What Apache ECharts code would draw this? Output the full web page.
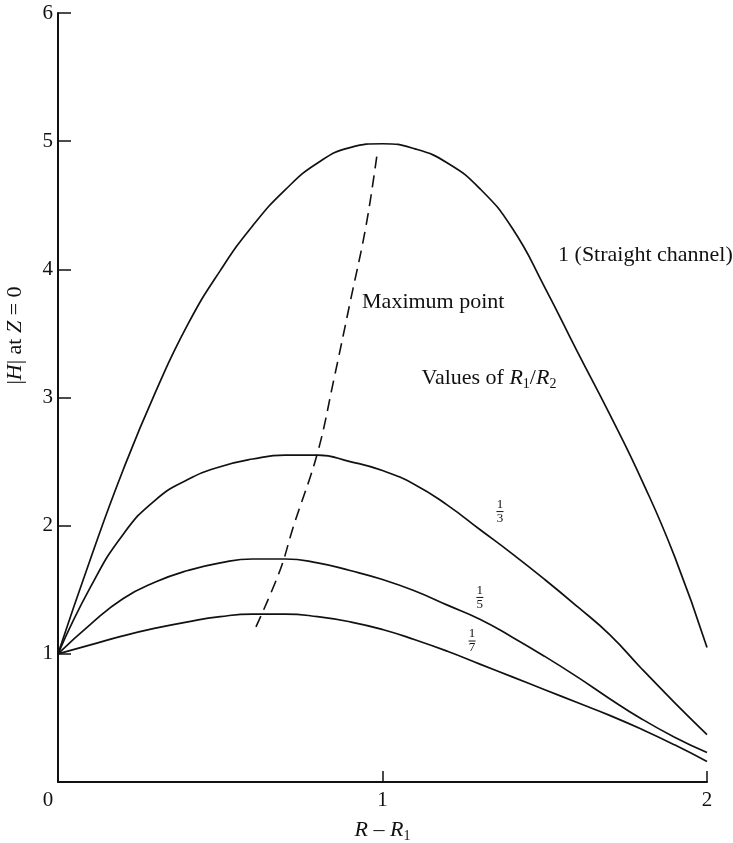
<!DOCTYPE html>
<html>
<head>
<meta charset="utf-8">
<script src="https://cdn.jsdelivr.net/npm/echarts@6/dist/echarts.min.js"></script>
<style>
html,body{margin:0;padding:0;background:#fff;}
#chart{width:733px;height:843px;}
</style>
</head>
<body>
<div id="chart"></div>
<script>
// ---- data ----
const xs = [0,0.1,0.2,0.3,0.4,0.5,0.6,0.7,0.8,0.9,1.0,1.1,1.2,1.3,1.4,1.5,1.6,1.7,1.8,1.9,2.0];
const straight = [1.0,1.74,2.43,3.04,3.57,3.99,4.34,4.62,4.83,4.95,4.98,4.94,4.83,4.63,4.32,3.86,3.36,2.87,2.35,1.76,1.05];
const third    = [1.0,1.52,1.93,2.2,2.36,2.46,2.52,2.55,2.55,2.5,2.43,2.32,2.16,1.97,1.78,1.58,1.37,1.15,0.88,0.62,0.37];
const fifth    = [1.0,1.23,1.43,1.56,1.65,1.71,1.74,1.74,1.71,1.65,1.58,1.49,1.38,1.27,1.13,0.98,0.82,0.65,0.49,0.35,0.23];
const seventh  = [1.0,1.07,1.14,1.2,1.25,1.29,1.31,1.31,1.29,1.25,1.19,1.11,1.02,0.92,0.82,0.72,0.62,0.52,0.41,0.29,0.16];
const maxX = [0.61,0.684,0.725,0.80,0.85,0.90,0.95,0.985];
const maxY = [1.21,1.65,1.99,2.57,3.14,3.74,4.35,4.93];
const xTicks = [0,1,2];
const yTicks = [1,2,3,4,5,6];

const SERIF = '"Liberation Serif","DejaVu Serif",serif';
const INK = '#111';
const pair = (a, b) => a.map((v, i) => [v, b[i]]);

const lineStyle = {color: INK, width: 1.7};
const curve = (name, ys) => ({
  name, type: 'line', data: pair(xs, ys), smooth: 0.5, showSymbol: false,
  lineStyle, silent: true
});

const richCommon = {
  i: {fontFamily: SERIF, fontSize: 22, fontStyle: 'italic', color: INK},
  t: {fontFamily: SERIF, fontSize: 22, color: INK},
  s: {fontFamily: SERIF, fontSize: 14, color: INK, padding: [12, 0, 0, 0]}
};
const fracRich = {
  n: {fontFamily: SERIF, fontSize: 13, color: INK, lineHeight: 11, align: 'center'},
  bar: {width: 7, height: 1, lineHeight: 3, fontSize: 1, backgroundColor: INK, align: 'center'}
};
const frac = d => '{n|1}\n{bar| }\n{n|' + d + '}';

const annotations = [
  {value: [1.541, 4.11], text: '{t|1 (Straight channel)}', rich: richCommon, pos: 'right'},
  {value: [0.937, 3.74], text: '{t|Maximum point}', rich: richCommon, pos: 'right'},
  {value: [1.12, 3.15], text: '{t|Values of }{i|R}{s|1}{t|/}{i|R}{s|2}', rich: richCommon, pos: 'right'},
  {value: [1.362, 2.11], text: frac(3), rich: fracRich, pos: 'inside'},
  {value: [1.30, 1.44], text: frac(5), rich: fracRich, pos: 'inside'},
  {value: [1.276, 1.10], text: frac(7), rich: fracRich, pos: 'inside'}
];

const chart = echarts.init(document.getElementById('chart'), null, {renderer: 'canvas'});
chart.setOption({
  animation: false,
  backgroundColor: '#fff',
  grid: {left: 58, right: 26, top: 13, bottom: 61, containLabel: false, outerBoundsMode: 'none'},
  xAxis: {
    type: 'value', min: 0, max: 2, interval: 1,
    axisLine: {show: true, lineStyle: {color: INK, width: 2}},
    axisTick: {show: true, inside: true, length: 11, lineStyle: {color: INK, width: 1.5}},
    splitLine: {show: false},
    axisLabel: {
      margin: 8, fontFamily: SERIF, fontSize: 21, color: INK,
      formatter: v => (xTicks.indexOf(v) < 0 ? '' : (v === 0 ? '{z|0}' : String(v))),
      rich: {z: {fontFamily: SERIF, fontSize: 21, color: INK, padding: [0, 20, 0, 0]}}
    },
    name: '{i|R}{t| – }{i|R}{s|1}',
    nameLocation: 'middle', nameGap: 35,
    nameTextStyle: {rich: richCommon, fontFamily: SERIF, fontSize: 22, color: INK}
  },
  yAxis: {
    type: 'value', min: 0, max: 6, interval: 1,
    axisLine: {show: true, lineStyle: {color: INK, width: 2}},
    axisTick: {show: true, inside: true, length: 13, lineStyle: {color: INK, width: 1.5}},
    splitLine: {show: false},
    axisLabel: {
      margin: 5, fontFamily: SERIF, fontSize: 21, color: INK,
      formatter: v => (yTicks.indexOf(v) < 0 ? '' : String(v))
    },
    name: '|{i|H}| at {i|Z} = 0',
    nameLocation: 'middle', nameGap: 32, nameRotate: 90,
    nameTextStyle: {rich: richCommon, fontFamily: SERIF, fontSize: 22, color: INK, padding: [0, 0, 0, 124]}
  },
  series: [
    curve('1 (Straight channel)', straight),
    curve('1/3', third),
    curve('1/5', fifth),
    curve('1/7', seventh),
    {
      name: 'Maximum point', type: 'line', data: pair(maxX, maxY), smooth: 0.4, showSymbol: false,
      lineStyle: {color: INK, width: 1.6, type: [12, 7]}, silent: true
    },
    {
      name: 'labels', type: 'scatter', symbolSize: 0, silent: true,
      itemStyle: {opacity: 1},
      data: annotations.map(a => ({
        value: a.value,
        label: {show: true, position: a.pos, distance: 0, formatter: a.text, rich: a.rich,
                color: INK, opacity: 1, textBorderWidth: 0}
      }))
    }
  ]
});
</script>
</body>
</html>
